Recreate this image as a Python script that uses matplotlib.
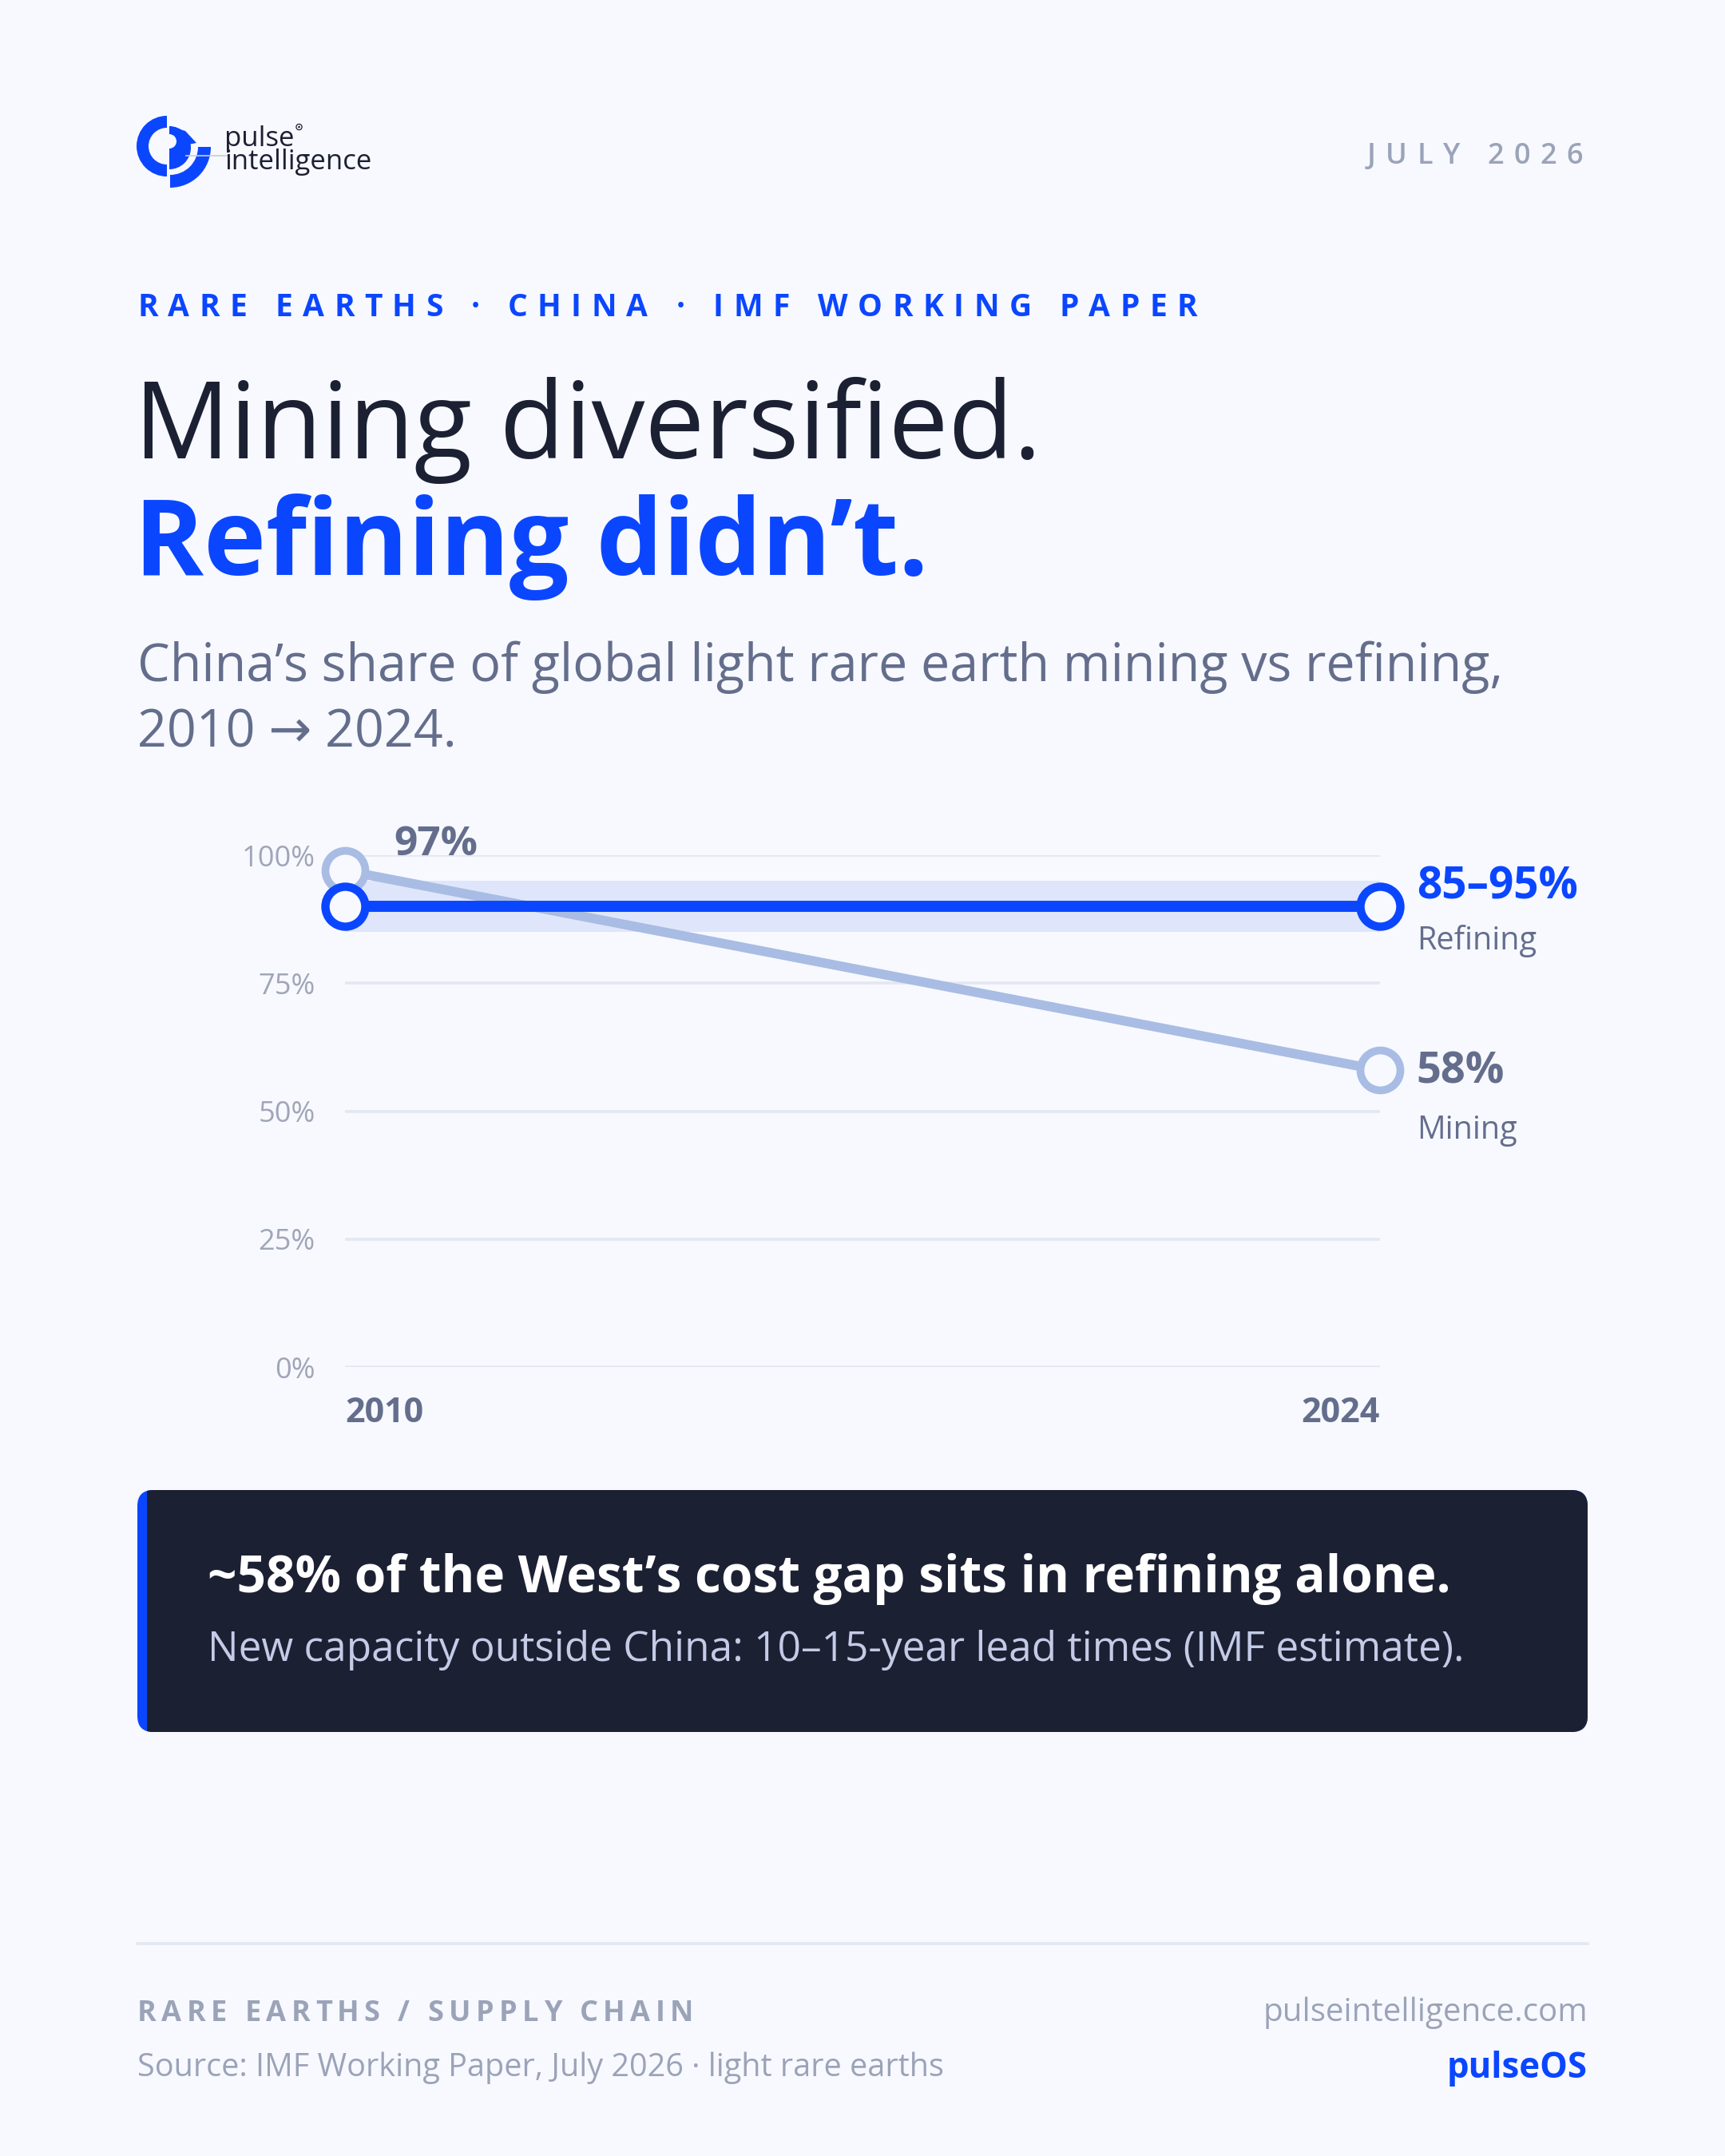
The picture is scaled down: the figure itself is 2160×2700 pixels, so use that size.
import matplotlib
matplotlib.use("Agg")
import matplotlib.pyplot as plt
from matplotlib.patches import FancyBboxPatch, Rectangle, Wedge, Circle, Polygon

plt.rcParams['font.family'] = ['Open Sans', 'DejaVu Sans']

# data
years = [2010, 2024]
mining = [97, 58]
refining = [90, 90]
refining_low = [85, 85]
refining_high = [95, 95]
y_ticks = [0, 25, 50, 75, 100]
y_labels = ["0%", "25%", "50%", "75%", "100%"]
x_labels = ["2010", "2024"]

BG = "#f7f9ff"
BLUE = "#0b46ff"
NAVY = "#1c2033"
SLATE = "#646e8c"
LIGHT = "#9ba3b8"
PALE = "#a9bce3"

W, H = 2160, 2700
fig = plt.figure(figsize=(W / 100, H / 100), dpi=100, facecolor=BG)

# overlay in pixel coords
bg = fig.add_axes([0, 0, 1, 1])
bg.set_xlim(0, W)
bg.set_ylim(H, 0)
bg.axis("off")
bg.set_zorder(0)

renderer = fig.canvas.get_renderer()


def width_of(s, **kw):
    t = bg.text(0, 0, s, **kw)
    w = t.get_window_extent(renderer).width
    t.remove()
    return w


def spaced(x, y, s, tracking, ha="left", **kw):
    base = width_of("xx", **kw)
    adv = [width_of("x" + ch + "x", **kw) - base for ch in s]
    total = sum(adv) + tracking * (len(s) - 1)
    if ha == "right":
        x = x - total
    for ch, a in zip(s, adv):
        bg.text(x, y, ch, va="baseline", ha="left", **kw)
        x += a + tracking


# logo mark
bg.add_patch(Wedge((209, 183), 38, 90, 270, width=15, color=BLUE, lw=0))
bg.add_patch(Wedge((213, 184), 51, 0, 90, width=16, color=BLUE, lw=0))
bg.add_patch(Wedge((212, 185), 27, -90, 90, color=BLUE, lw=0))
bg.add_patch(Polygon([(212, 158), (232, 164), (246, 179), (236, 181)], color=BLUE, lw=0))
bg.add_patch(Circle((212, 177), 9, color=BG, lw=0))
bg.plot([233, 287], [195, 195], color="#c8cdd8", lw=1.2)
bg.text(281, 212, "pulse\nintelligence", fontsize=25, color=NAVY, va="baseline",
        fontweight="medium", linespacing=0.82)
reg_x = 287 + width_of("pulse", fontsize=25, fontweight="medium")
bg.add_patch(Circle((reg_x, 159), 3.6, fill=False, ec=NAVY, lw=0.9))
bg.add_patch(Circle((reg_x, 159), 1.3, color=NAVY, lw=0))

spaced(1982, 205, "JULY 2026", 12.5, ha="right", fontsize=26, color=LIGHT,
       fontweight="semibold")

# header
spaced(172, 396, "RARE EARTHS · CHINA · IMF WORKING PAPER", 12.5, fontsize=28,
       color=BLUE, fontweight="bold")
bg.text(168, 574, "Mining diversified.", fontsize=96, color=NAVY, va="baseline")
bg.text(168, 720, "Refining didn\u2019t.", fontsize=95, color=BLUE, va="baseline",
        fontweight="bold")
bg.text(172, 853, "China\u2019s share of global light rare earth mining vs refining,",
        fontsize=46.5, color=SLATE, va="baseline")
bg.text(172, 935, "2010 \u2192 2024.", fontsize=46.5, color=SLATE, va="baseline")

# chart
ax = fig.add_axes([432 / W, 1 - 1712 / H, 1296 / W, 641 / H])
ax.set_zorder(2)
ax.patch.set_alpha(0)
ax.set_xlim(years[0], years[-1])
ax.set_ylim(0, 100)
for s in ax.spines.values():
    s.set_visible(False)
ax.set_yticks(y_ticks, y_labels)
ax.set_xticks(years, x_labels)
ax.grid(axis="y", color="#e3e7f1", lw=2.6)
ax.set_axisbelow(True)
ax.tick_params(axis="y", length=0, pad=27, labelsize=26, labelcolor="#a0a6b8")
ax.tick_params(axis="x", length=0, pad=26, labelsize=31, labelcolor=SLATE)
for lab, ha in zip(ax.get_xticklabels(), ["left", "right"]):
    lab.set_ha(ha)
    lab.set_fontweight("bold")

ax.fill_between(years, refining_low, refining_high, color="#dfe6fb", lw=0, zorder=1)
ax.plot(years, mining, color=PALE, lw=8.5, marker="o", ms=36, mfc=BG, mec=PALE,
        mew=7, clip_on=False, zorder=3, solid_capstyle="round")
ax.plot(years, refining, color=BLUE, lw=10, marker="o", ms=36, mfc=BG, mec=BLUE,
        mew=7.5, clip_on=False, zorder=4)

ax.annotate(f"{mining[0]}%", (years[0], mining[0]), xytext=(44, 14), textcoords="offset points",
            fontsize=37, fontweight="bold", color=SLATE, va="baseline")
ax.annotate(f"{refining_low[1]}\u2013{refining_high[1]}%", (years[1], refining[1]),
            xytext=(33, 7), textcoords="offset points", fontsize=39.5, fontweight="bold",
            color=BLUE, va="baseline", annotation_clip=False)
ax.annotate("Refining", (years[1], refining[1]), xytext=(33, -39), textcoords="offset points",
            fontsize=28.5, color=SLATE, va="baseline", annotation_clip=False)
ax.annotate(f"{mining[1]}%", (years[1], mining[1]), xytext=(33, -12), textcoords="offset points",
            fontsize=39, fontweight="bold", color=SLATE, va="baseline", annotation_clip=False)
ax.annotate("Mining", (years[1], mining[1]), xytext=(33, -62), textcoords="offset points",
            fontsize=28.5, color=SLATE, va="baseline", annotation_clip=False)

# callout box
box_l, box_t, box_r, box_b = 172, 1866, 1988, 2169
bg.add_patch(FancyBboxPatch((box_l, box_t), box_r - box_l, box_b - box_t,
                            boxstyle="round,pad=0,rounding_size=20", color=BLUE, lw=0))
dark = FancyBboxPatch((box_l, box_t), box_r - box_l, box_b - box_t,
                      boxstyle="round,pad=0,rounding_size=20", color=NAVY, lw=0)
bg.add_patch(dark)
clip = Rectangle((box_l + 12, box_t - 5), box_r - box_l, box_b - box_t + 10,
                 transform=bg.transData)
dark.set_clip_path(clip)
bg.text(260, 1994, "~58% of the West\u2019s cost gap sits in refining alone.", fontsize=46,
        fontweight="bold", color="white", va="baseline")
bg.text(260, 2080, "New capacity outside China: 10\u201315-year lead times (IMF estimate).",
        fontsize=37, color="#c3cbe6", va="baseline")

# footer
bg.plot([172, 1988], [2434, 2434], color="#e3e7f1", lw=2.6)
spaced(172, 2531, "RARE EARTHS / SUPPLY CHAIN", 6.5, fontsize=26, color=LIGHT, fontweight="bold")
bg.text(172, 2600, "Source: IMF Working Paper, July 2026 \u00b7 light rare earths", fontsize=28.5,
        color=LIGHT, va="baseline")
bg.text(1988, 2531, "pulseintelligence.com", fontsize=29, color=LIGHT, va="baseline", ha="right")
bg.text(1988, 2602, "pulseOS", fontsize=31.5, color=BLUE, va="baseline", ha="right",
        fontweight="bold")

fig.savefig("out.png", dpi=100, facecolor=BG)
